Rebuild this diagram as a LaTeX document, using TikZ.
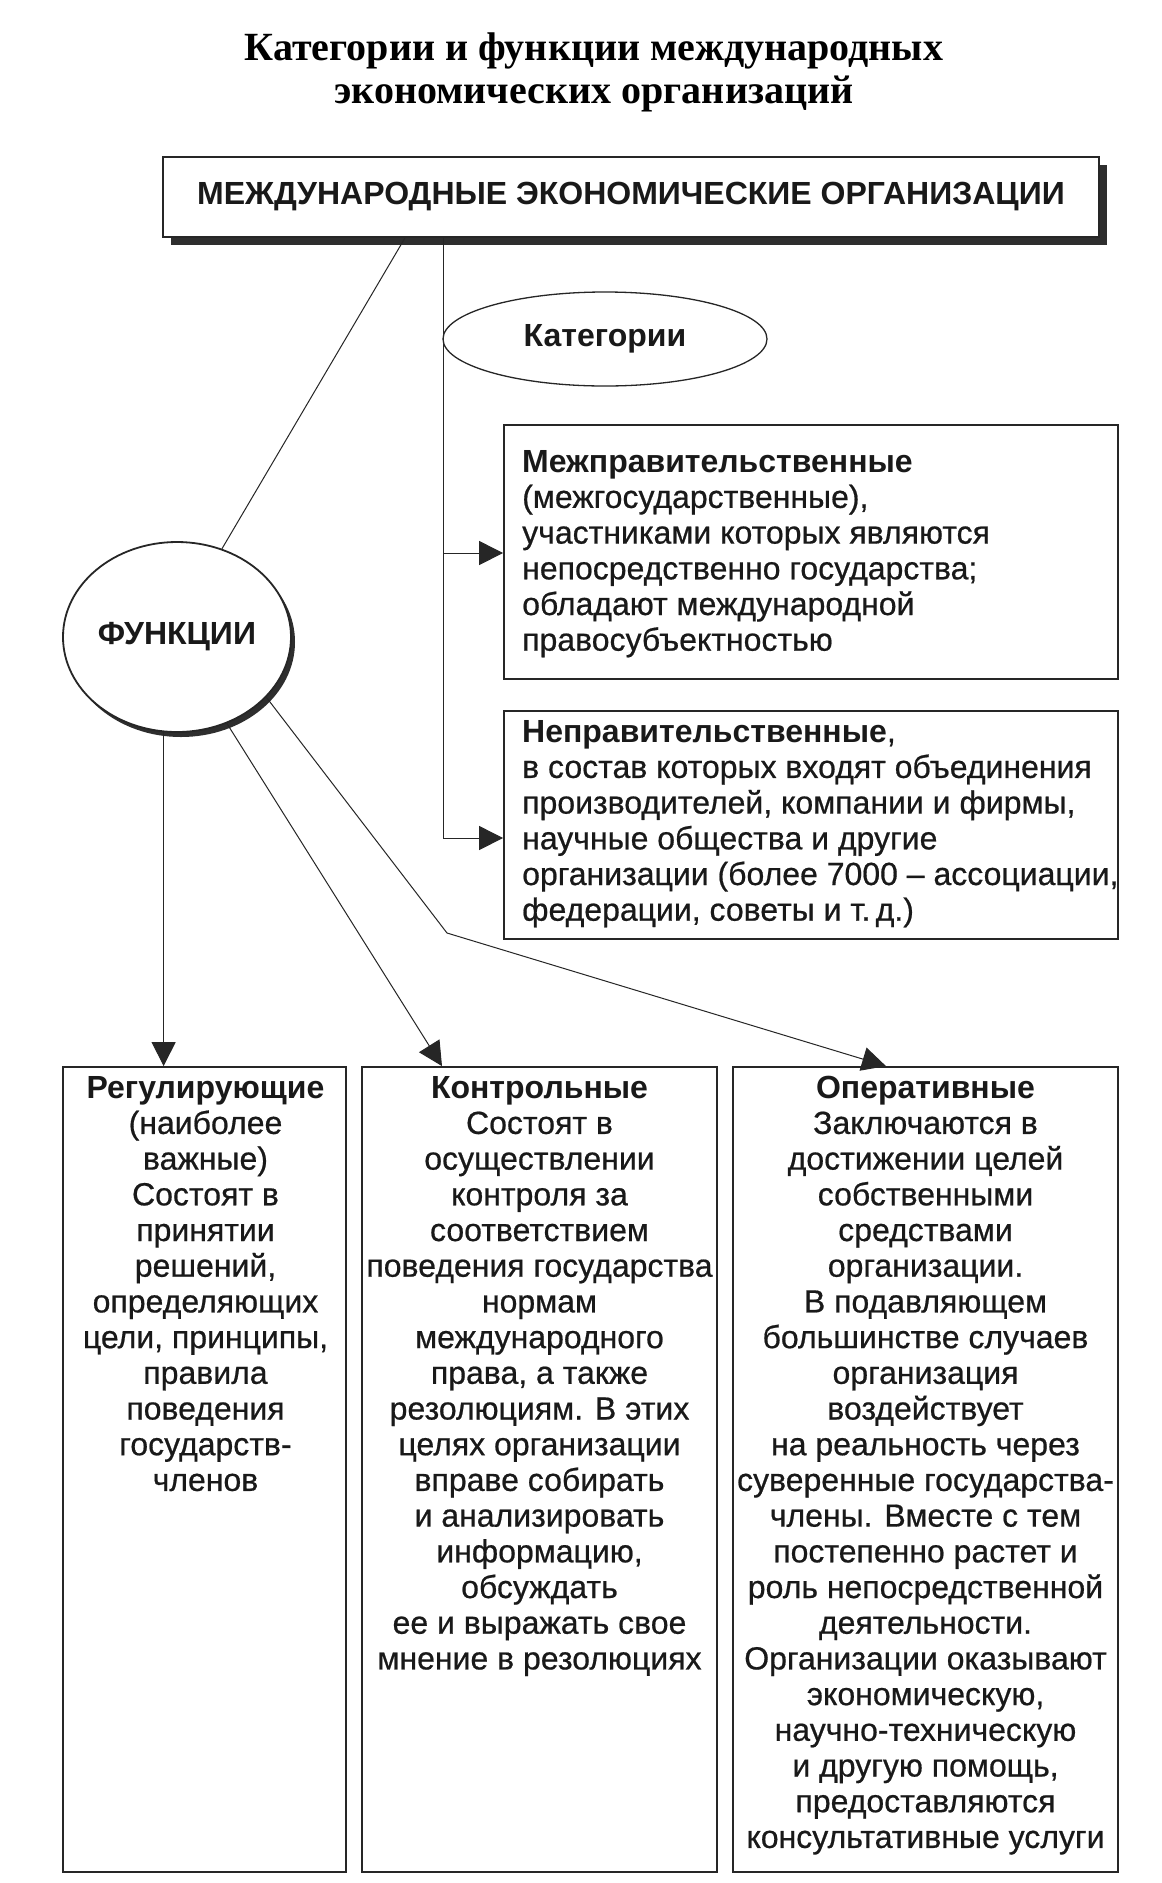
\documentclass[tikz,border=0pt]{standalone}
\usepackage{fontspec}
\setmainfont{Liberation Sans}[UprightFeatures={FakeBold=0.6}]
\newfontfamily\titlefont{Liberation Serif}
\usetikzlibrary{arrows.meta,shapes.geometric,shadows}
\newcommand\bodyfont{\fontsize{32}{35.7}\selectfont}
\begin{document}
\begin{tikzpicture}[x=1pt,y=-1pt,
  thinline/.style={line width=1pt, draw=black!85},
  arr/.style={thinline, -{Triangle[length=24pt,width=24pt]}},
  boxshape/.style={draw=black!85, line width=1.8pt, rectangle, inner sep=0pt},
  txt/.style={inner sep=0pt, font=\bodyfont, text=black!90},
  shadowdark/.style={drop shadow={shadow xshift=#1, shadow yshift=-#1, fill=black!82, opacity=1}}
]
\useasboundingbox (0,0) rectangle (1162,1883);
\fill[white] (0,0) rectangle (1162,1883);

% title
\node[anchor=north, inner sep=0pt, font=\titlefont\bfseries\fontsize{40}{43}\selectfont, align=center, text=black] (title) at (594,30)
  {\strut Категории и функции международных\\экономических организаций};

% main box
\node[boxshape, fill=white, shadowdark=8pt, minimum width=936pt, minimum height=80pt,
  font=\bfseries\fontsize{32}{36}\selectfont, text=black!90] (main) at (631,197)
  {МЕЖДУНАРОДНЫЕ ЭКОНОМИЧЕСКИЕ ОРГАНИЗАЦИИ};

% categories ellipse
\node[ellipse, draw=black!85, line width=1.3pt, minimum width=324pt, minimum height=94pt, inner sep=0pt,
  font=\bfseries\fontsize{32}{36}\selectfont, text=black!90] (kat) at (605,339) {Категории};

% functions circle
\node[ellipse, draw=black!85, line width=1.8pt, fill=white,
  drop shadow={shadow xshift=4pt, shadow yshift=-5pt, fill=black!82, opacity=1},
  minimum width=228pt, minimum height=190pt, inner sep=0pt,
  font=\bfseries\fontsize{32}{36}\selectfont, text=black!90] (f) at (177,637) {ФУНКЦИИ};

% category boxes
\node[boxshape, minimum width=614pt, minimum height=254pt] (b1) at (811,552) {};
\node[boxshape, minimum width=614pt, minimum height=228pt] (b2) at (811,825) {};

\node[txt, anchor=north west, align=left] (t1) at (522,447)
  {\strut\textbf{Межправительственные}\\
   (межгосударственные),\\
   участниками которых являются\\
   непосредственно государства;\\
   обладают международной\\
   правосубъектностью};

\node[txt, anchor=north west, align=left] (t2) at (522,717)
  {\strut\textbf{Неправительственные},\\
   в состав которых входят объединения\\
   производителей, компании и фирмы,\\
   научные общества и другие\\
   организации (более 7000 – ассоциации,\\
   федерации, советы и т.\,д.)};

% function boxes
\node[boxshape, minimum width=283pt, minimum height=805pt] (A) at (204.5,1469.5) {};
\node[boxshape, minimum width=355pt, minimum height=805pt] (B) at (539.5,1469.5) {};
\node[boxshape, minimum width=385pt, minimum height=805pt] (C) at (925.5,1469.5) {};

\node[txt, anchor=north, align=center] (tA) at (205.5,1073)
  {\strut\textbf{Регулирующие}\\
   (наиболее\\
   важные)\\
   Состоят в\\
   принятии\\
   решений,\\
   определяющих\\
   цели, принципы,\\
   правила\\
   поведения\\
   государств-\\
   членов};

\node[txt, anchor=north, align=center] (tB) at (539.5,1073)
  {\strut\textbf{Контрольные}\\
   Состоят в\\
   осуществлении\\
   контроля за\\
   соответствием\\
   поведения государства\\
   нормам\\
   международного\\
   права, а также\\
   резолюциям. В этих\\
   целях организации\\
   вправе собирать\\
   и анализировать\\
   информацию,\\
   обсуждать\\
   ее и выражать свое\\
   мнение в резолюциях};

\node[txt, anchor=north, align=center] (tC) at (925.5,1073)
  {\strut\textbf{Оперативные}\\
   Заключаются в\\
   достижении целей\\
   собственными\\
   средствами\\
   организации.\\
   В подавляющем\\
   большинстве случаев\\
   организация\\
   воздействует\\
   на реальность через\\
   суверенные государства-\\
   члены. Вместе с тем\\
   постепенно растет и\\
   роль непосредственной\\
   деятельности.\\
   Организации оказывают\\
   экономическую,\\
   научно-техническую\\
   и другую помощь,\\
   предоставляются\\
   консультативные услуги};

% helper coordinates
\coordinate (vx) at (443,0);
\coordinate (mx) at (405,0);
\coordinate (v0) at (main.south -| vx);
\coordinate (v1) at (443,553);
\coordinate (v2) at (443,838);
\coordinate (btx) at (442,0);
\coordinate (ctx) at (886,0);
\coordinate (ck) at (447,933);

% connectors
\draw[thinline] (v0) -- (v2);
\draw[arr] (v1) -- (v1 -| b1.west);
\draw[arr] (v2) -- (v2 -| b2.west);
\draw[thinline] (main.south -| mx) -- (f.63);
\draw[arr] (f.262) -- (f.262 |- A.north);
\draw[arr] (f.300) -- (B.north -| btx);
\draw[arr] (f.326) -- (ck) -- (C.north -| ctx);
\end{tikzpicture}
\end{document}
